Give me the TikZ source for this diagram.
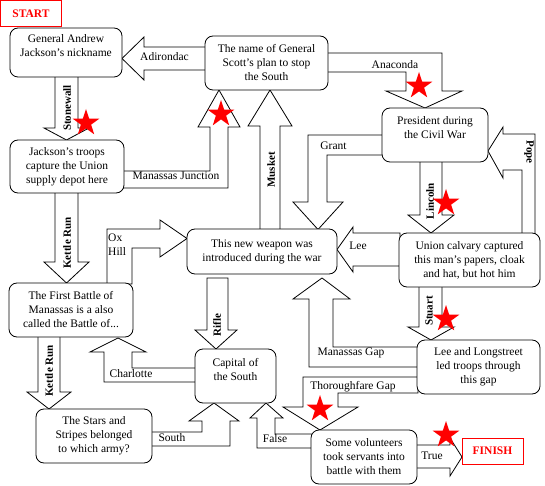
\documentclass[tikz,border=0pt]{standalone}
\usepackage{fontspec}
\setmainfont{Liberation Serif}
\usetikzlibrary{shapes.geometric}

\begin{document}
\begin{tikzpicture}[x=1pt, y=-1pt,
    qbox/.style={draw, rounded corners=8pt, fill=white, align=center,
                 line width=0.8pt, inner sep=0pt, font=\fontsize{11.5}{14}\selectfont},
    endbox/.style={draw=red, fill=white, text=red, line width=0.8pt,
                   inner sep=0pt, font=\fontsize{11.5}{14}\selectfont\bfseries},
    barrow/.style={draw, fill=white, line width=0.8pt, line join=miter},
    alabel/.style={inner sep=0pt, font=\fontsize{11.5}{14}\selectfont},
    vlabel/.style={inner sep=0pt, rotate=90, font=\fontsize{11}{12}\selectfont\bfseries},
    redstar/.style={star, star points=5, star point ratio=2.6, fill=red,
                    minimum size=28pt, inner sep=0pt}
  ]
    \useasboundingbox (0,0) rectangle (545,486);

    % Block arrows
    \draw[barrow] (206,47) -- (144,47) -- (144,37) -- (122,58.5) -- (144,80) -- (144,70) -- (206,70) -- cycle;
    \draw[barrow] (327,53) -- (442,53) -- (442,91) -- (462,91) -- (425,108) -- (386,91) -- (406,91) -- (406,72) -- (327,72) -- cycle;
    \draw[barrow] (55,76) -- (55,128) -- (44,128) -- (66.5,140) -- (89,128) -- (78,128) -- (78,76) -- cycle;
    \draw[barrow] (123,171) -- (210,171) -- (210,127) -- (198,127) -- (219,90) -- (240,127) -- (228,127) -- (228,188) -- (123,188) -- cycle;
    \draw[barrow] (260,230) -- (260,126) -- (248,126) -- (270,90) -- (292,126) -- (280,126) -- (280,230) -- cycle;
    \draw[barrow] (383,135) -- (308,135) -- (308,202) -- (293,202) -- (318,229.5) -- (343,202) -- (327,202) -- (327,155) -- (383,155) -- cycle;
    \draw[barrow] (420,161) -- (420,215) -- (408,215) -- (431,233) -- (454,215) -- (442,215) -- (442,161) -- cycle;
    \draw[barrow] (522,234) -- (522,170) -- (503,170) -- (503,178) -- (488,151) -- (503,127) -- (503,134) -- (535,134) -- (535,234) -- cycle;
    \draw[barrow] (400,233) -- (353,233) -- (353,227) -- (337,249.5) -- (353,272) -- (353,266) -- (400,266) -- cycle;
    \draw[barrow] (55,192) -- (55,262) -- (44,262) -- (66.5,283) -- (89,262) -- (78,262) -- (78,192) -- cycle;
    \draw[barrow] (107,284) -- (107,229) -- (160,229) -- (160,220) -- (187,238.5) -- (160,257) -- (160,248) -- (132,248) -- (132,284) -- cycle;
    \draw[barrow] (207,278) -- (207,330) -- (195,330) -- (216,349) -- (237,330) -- (228,330) -- (228,278) -- cycle;
    \draw[barrow] (196,368) -- (132,368) -- (132,352) -- (146,352) -- (118,338) -- (90,352) -- (104,352) -- (104,382) -- (196,382) -- cycle;
    \draw[barrow] (38,336) -- (38,392) -- (27,392) -- (49,409) -- (71,392) -- (60,392) -- (60,336) -- cycle;
    \draw[barrow] (151,432) -- (202,432) -- (202,421) -- (189,421) -- (214,403) -- (239,421) -- (230,421) -- (230,446) -- (151,446) -- cycle;
    \draw[barrow] (418,347) -- (333,347) -- (333,299) -- (350,299) -- (322,278) -- (293,299) -- (309,299) -- (309,367) -- (418,367) -- cycle;
    \draw[barrow] (419,286) -- (419,327) -- (408,327) -- (431,340) -- (454,327) -- (442,327) -- (442,286) -- cycle;
    \draw[barrow] (418,377) -- (303,377) -- (303,407) -- (283,407) -- (320,430) -- (358,407) -- (338,407) -- (338,393) -- (418,393) -- cycle;
    \draw[barrow] (312,434) -- (275,434) -- (275,418) -- (283,418) -- (266,403) -- (250,418) -- (257,418) -- (257,448) -- (312,448) -- cycle;
    \draw[barrow] (416,445) -- (450,445) -- (450,438) -- (462,457) -- (450,476) -- (450,468) -- (416,468) -- cycle;

    % Start and finish
    \node[endbox, minimum width=61pt, minimum height=26pt] (start) at (31,13.5) {START};
    \node[endbox, minimum width=61pt, minimum height=26pt] (finish) at (492.5,451) {FINISH};

    % Questions
    \node[qbox, minimum width=112pt, minimum height=49pt] (nick) at (66,52.5)
      {General Andrew\\Jackson’s nickname\\\mbox{}};
    \node[qbox, minimum width=123pt, minimum height=54pt] (plan) at (266.5,63)
      {The name of General\\Scott’s plan to stop\\the South};
    \node[qbox, minimum width=106pt, minimum height=54pt] (pres) at (435,135)
      {President during\\the Civil War\\\mbox{}};
    \node[qbox, minimum width=114pt, minimum height=53pt] (depot) at (67,166.5)
      {Jackson’s troops\\capture the Union\\supply depot here};
    \node[qbox, minimum width=150pt, minimum height=45pt] (weapon) at (262,251.5)
      {This new weapon was\\introduced during the war};
    \node[qbox, minimum width=141pt, minimum height=54pt] (union) at (469.5,260)
      {Union calvary captured\\this man’s papers, cloak\\and hat, but hot him};
    \node[qbox, minimum width=124pt, minimum height=54pt] (battle) at (71,310)
      {The First Battle of\\Manassas is a also\\called the Battle of...};
    \node[qbox, minimum width=81pt, minimum height=54pt] (capital) at (235.5,376)
      {Capital of\\the South\\\mbox{}};
    \node[qbox, minimum width=116pt, minimum height=54pt] (flag) at (94,436)
      {The Stars and\\Stripes belonged\\to which army?};
    \node[qbox, minimum width=123pt, minimum height=54pt] (gap) at (478.5,367)
      {Lee and Longstreet\\led troops through\\this gap};
    \node[qbox, minimum width=106pt, minimum height=54pt] (servants) at (364,457)
      {Some volunteers\\took servants into\\battle with them};

    % Answers
    \node[alabel] (adirondac) at (164.5,57) {Adirondac};
    \node[alabel] (anaconda) at (395,65) {Anaconda};
    \node[alabel] (junction) at (176,176) {Manassas Junction};
    \node[alabel] (grant) at (333.5,146) {Grant};
    \node[alabel] (lee) at (358,246) {Lee};
    \node[alabel, align=left, anchor=north west] (oxhill) at (108,234) {Ox\\Hill};
    \node[alabel] (charlotte) at (131,374) {Charlotte};
    \node[alabel] (south) at (172,438) {South};
    \node[alabel] (mgap) at (351,353) {Manassas Gap};
    \node[alabel] (tgap) at (353,387) {Thoroughfare Gap};
    \node[alabel] (false) at (275,439) {False};
    \node[alabel] (true) at (432,456) {True};
    \node[vlabel] (stonewall) at (67,108) {Stonewall};
    \node[vlabel] (musket) at (271,170) {Musket};
    \node[vlabel] (lincoln) at (430,201) {Lincoln};
    \node[vlabel, rotate=180] (pope) at (529,152) {Pope};
    \node[vlabel] (kettle1) at (67,243) {Kettle Run};
    \node[vlabel] (rifle) at (217,325) {Rifle};
    \node[vlabel] (kettle2) at (49,371) {Kettle Run};
    \node[vlabel] (stuart) at (429,311) {Stuart};

    % Right answers
    \node[redstar] (s1) at (86,123) {};
    \node[redstar] (s2) at (221,114) {};
    \node[redstar] (s3) at (419,86) {};
    \node[redstar] (s4) at (446,203) {};
    \node[redstar] (s5) at (446,319) {};
    \node[redstar] (s6) at (320,409) {};
    \node[redstar] (s7) at (446,435) {};
  \end{tikzpicture}
\end{document}
